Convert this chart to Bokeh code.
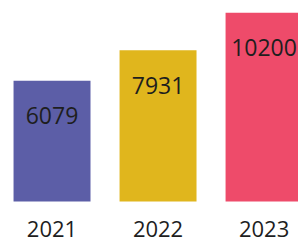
from bokeh.plotting import figure
from bokeh.models import Range1d, ColumnDataSource
from bokeh.core.properties import value
from bokeh.embed import file_html
from bokeh.resources import INLINE

years = ["2021", "2022", "2023"]
counts = [6079, 7931, 10200]
colors = ["#5c5ea7", "#e0b61d", "#ee4b6a"]

# value axis: bars rise from BASE (bottom of bars); frame extends below for year labels
BASE = -1237
Y_MIN = -3720
Y_MAX = 10938

xs = list(range(len(years)))
src = ColumnDataSource(dict(
    x=xs,
    top=counts,
    color=colors,
    label=[str(c) for c in counts],
    year=years,
    base=[BASE] * len(years),
))

p = figure(
    width=298, height=242,
    x_range=Range1d(-0.486, 2.325),
    y_range=Range1d(Y_MIN, Y_MAX),
    output_backend="svg", toolbar_location=None,
    min_border_left=0, min_border_right=0, min_border_top=0, min_border_bottom=0,
)
p.outline_line_color = None
p.grid.visible = False
p.xaxis.visible = False
p.yaxis.visible = False
p.background_fill_color = "white"
p.border_fill_color = "white"

p.vbar(x="x", top="top", bottom=BASE, width=0.726, fill_color="color",
       line_color=None, source=src)

p.text(x="x", y="top", text="label", source=src,
       text_font=value("Open Sans"), text_font_size="23px",
       text_color="#1e1e1e", text_align="center", text_baseline="middle",
       y_offset=35)

p.text(x="x", y="base", text="year", source=src,
       text_font=value("Open Sans"), text_font_size="22px",
       text_color="#1e1e1e", text_align="center", text_baseline="middle",
       y_offset=27)

open("out.html", "w").write(file_html(p, INLINE))
